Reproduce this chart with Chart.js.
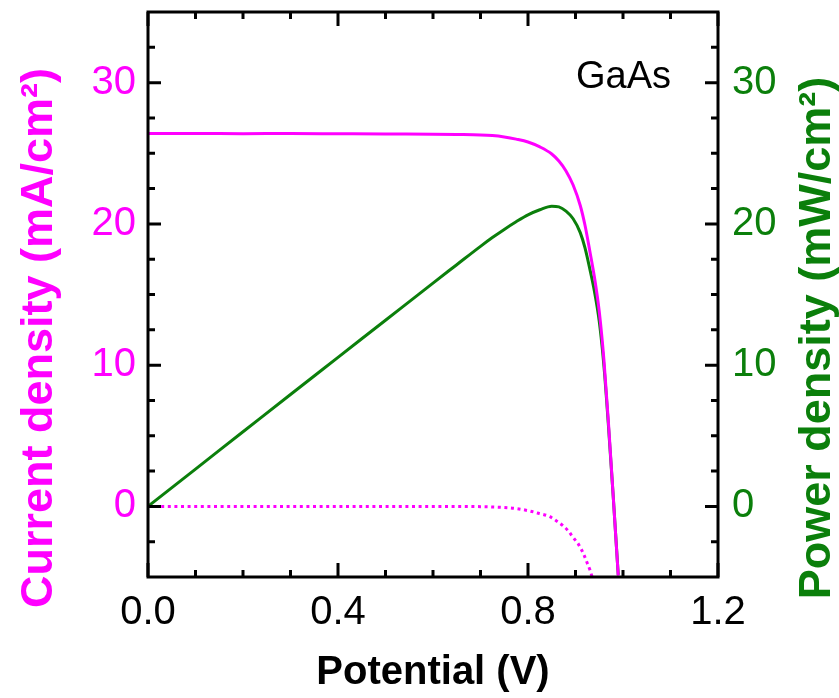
<!DOCTYPE html>
<html>
<head>
<meta charset="utf-8">
<script src="https://cdn.jsdelivr.net/npm/chart.js@4.4.1/dist/chart.umd.min.js"></script>
<style>
html,body{margin:0;padding:0;background:#fff;}
canvas{display:block;}
</style>
</head>
<body>
<canvas id="c" width="839" height="698"></canvas>
<script>
// ---- data ----
const potential = [0, 0.1, 0.2, 0.3, 0.4, 0.5, 0.6, 0.65, 0.7, 0.725, 0.75, 0.775, 0.8, 0.825, 0.85, 0.865, 0.88, 0.895, 0.91, 0.92, 0.93, 0.94, 0.95, 0.96, 0.97, 0.98, 0.99];
const currentLight = [26.4, 26.4, 26.38, 26.4, 26.38, 26.36, 26.35, 26.33, 26.3, 26.25, 26.15, 26.0, 25.8, 25.45, 24.95, 24.45, 23.75, 22.75, 21.3, 19.9, 18.1, 16.2, 13.8, 10.3, 5.6, 0.4, -4.9];
const powerDensity = [0, 2.64, 5.28, 7.92, 10.55, 13.18, 15.81, 17.11, 18.41, 19.03, 19.61, 20.15, 20.64, 21.0, 21.25, 21.2, 20.9, 20.36, 19.38, 18.3, 16.83, 15.2, 13.1, 9.9, 5.4, 0.4, -4.85];
const potentialDark = [0, 0.1, 0.2, 0.3, 0.4, 0.5, 0.6, 0.7, 0.75, 0.776, 0.804, 0.822, 0.846, 0.86, 0.874, 0.885, 0.895, 0.906, 0.917, 0.924, 0.931, 0.935];
const currentDark = [0, 0, 0, 0, 0, 0, 0, -0.02, -0.08, -0.16, -0.33, -0.49, -0.73, -1.03, -1.38, -1.74, -2.2, -2.67, -3.37, -3.96, -4.55, -5.0];
const xTickValues = [0, 0.4, 0.8, 1.2];
const yTickValues = [0, 10, 20, 30];
const xMinorTicks = [0.1, 0.2, 0.3, 0.5, 0.6, 0.7, 0.9, 1.0, 1.1];
const yMinorTicks = [-2.5, 2.5, 5, 7.5, 12.5, 15, 17.5, 22.5, 25, 27.5, 32.5];
const sampleLabel = 'GaAs';
const xTitle = 'Potential (V)';
const yTitle = 'Current density (mA/cm²)';
const y2Title = 'Power density (mW/cm²)';

const MAGENTA = '#ff00ff';
const GREEN = '#0b7f0b';
const FONT = "'Liberation Sans', Arial, sans-serif";

const toXY = (xs, ys) => xs.map((x, i) => ({x: x, y: ys[i]}));

const framePlugin = {
  id: 'frame',
  afterDraw(chart) {
    const ctx = chart.ctx;
    const a = chart.chartArea;
    const xs = chart.scales.x, ys = chart.scales.y;
    ctx.save();
    ctx.strokeStyle = '#000';
    ctx.lineWidth = 3;
    ctx.lineCap = 'butt';
    ctx.beginPath();
    const tick = (x1, y1, x2, y2) => { ctx.moveTo(x1, y1); ctx.lineTo(x2, y2); };
    xTickValues.forEach(v => { const p = xs.getPixelForValue(v); tick(p, a.bottom, p, a.bottom - 14); tick(p, a.top, p, a.top + 14); });
    xMinorTicks.forEach(v => { const p = xs.getPixelForValue(v); tick(p, a.bottom, p, a.bottom - 7); tick(p, a.top, p, a.top + 7); });
    yTickValues.forEach(v => { const p = ys.getPixelForValue(v); tick(a.left, p, a.left + 13, p); tick(a.right, p, a.right - 13, p); });
    yMinorTicks.forEach(v => { const p = ys.getPixelForValue(v); tick(a.left, p, a.left + 7, p); tick(a.right, p, a.right - 7, p); });
    ctx.stroke();
    ctx.strokeRect(a.left, a.top, a.right - a.left, a.bottom - a.top);
    // sample label
    ctx.fillStyle = '#000';
    ctx.font = '38px ' + FONT;
    ctx.textAlign = 'right';
    ctx.textBaseline = 'middle';
    ctx.fillText(sampleLabel, 671, 78);
    // vertical axis titles (read bottom to top)
    const vTitle = (text, color, x) => {
      ctx.save();
      ctx.translate(x, 338);
      ctx.rotate(-Math.PI / 2);
      ctx.fillStyle = color;
      ctx.font = 'bold 45px ' + FONT;
      ctx.textAlign = 'center';
      ctx.textBaseline = 'middle';
      ctx.fillText(text, 0, 0);
      ctx.restore();
    };
    vTitle(yTitle, MAGENTA, 40);
    vTitle(y2Title, GREEN, 818);
    ctx.restore();
  }
};

const setTicks = vals => scale => { scale.ticks = vals.map(v => ({value: v})); };

new Chart(document.getElementById('c'), {
  type: 'scatter',
  data: {
    datasets: [
      {label: 'dark', data: toXY(potentialDark, currentDark), showLine: true, borderColor: MAGENTA, borderWidth: 3, borderCapStyle: 'butt', borderDash: [3, 3.6], pointRadius: 0, cubicInterpolationMode: 'monotone', yAxisID: 'y'},
      {label: 'J', data: toXY(potential, currentLight), showLine: true, borderColor: MAGENTA, borderWidth: 3, pointRadius: 0, cubicInterpolationMode: 'monotone', yAxisID: 'y'},
      {label: 'P', data: toXY(potential, powerDensity), showLine: true, borderColor: GREEN, borderWidth: 3, pointRadius: 0, cubicInterpolationMode: 'monotone', yAxisID: 'y2'}
    ]
  },
  options: {
    responsive: false,
    animation: false,
    devicePixelRatio: 1,
    layout: {padding: {top: 12, left: 0, right: 0, bottom: 0}},
    plugins: {legend: {display: false}, tooltip: {enabled: false}},
    scales: {
      x: {
        type: 'linear', position: 'bottom', min: 0, max: 1.2,
        afterBuildTicks: setTicks(xTickValues),
        afterFit: s => { s.height = 121; s.paddingLeft = 0; s.paddingRight = 0; },
        grid: {display: false, drawTicks: false},
        border: {display: false},
        ticks: {color: '#000', padding: 12, font: {family: FONT, size: 40, lineHeight: 1.2}, callback: v => Number(v).toFixed(1), maxRotation: 0, autoSkip: false},
        title: {display: true, text: xTitle, color: '#000', padding: {top: 0, bottom: 1}, font: {family: FONT, size: 40, weight: 'bold', lineHeight: 1.2}}
      },
      y: {
        type: 'linear', position: 'left', min: -5, max: 35,
        afterBuildTicks: setTicks(yTickValues),
        afterFit: s => { s.width = 148; s.paddingTop = 0; s.paddingBottom = 0; },
        grid: {display: false, drawTicks: false},
        border: {display: false},
        ticks: {color: MAGENTA, padding: 12, font: {family: FONT, size: 40, lineHeight: 1.2}, autoSkip: false},
        title: {display: false}
      },
      y2: {
        type: 'linear', position: 'right', min: -5, max: 35,
        afterBuildTicks: setTicks(yTickValues),
        afterFit: s => { s.width = 121; s.paddingTop = 0; s.paddingBottom = 0; },
        grid: {display: false, drawTicks: false},
        border: {display: false},
        ticks: {color: GREEN, padding: 14, font: {family: FONT, size: 40, lineHeight: 1.2}, autoSkip: false},
        title: {display: false}
      }
    }
  },
  plugins: [framePlugin]
});
</script>
</body>
</html>
